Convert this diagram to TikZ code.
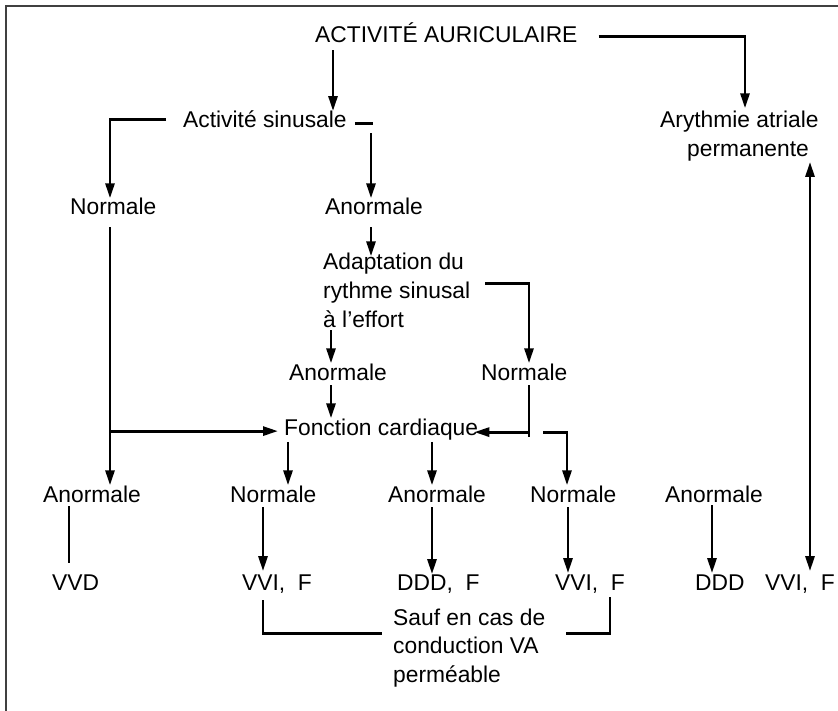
\documentclass[tikz,border=0pt]{standalone}
\usepackage{fontspec}
\setmainfont{Liberation Sans}
\usetikzlibrary{arrows.meta}
\begin{document}
\begin{tikzpicture}[x=1pt,y=-1pt,
  txt/.style={inner sep=0pt, anchor=base west, font=\fontsize{22.8}{28.5}\selectfont},
  ln/.style={line width=2.8pt},
  arr/.style={ln,-{Triangle[length=15pt,width=9pt]}},
  darr/.style={ln,{Triangle[length=15pt,width=9pt]}-{Triangle[length=15pt,width=9pt]}}]
\clip (0,0) rectangle (838,711);
\fill[white] (0,0) rectangle (838,711);
% frame
\draw[line width=1.5pt, black!75] (838,6) -- (6,6) -- (6,711);
% texts
\node[txt] (title) at (315,43) {ACTIVITÉ AURICULAIRE};
\node[txt] (sinus) at (183,128) {Activité sinusale};
\node[txt] (aap1) at (660,128) {Arythmie atriale};
\node[txt] (aap2) at (687,157) {permanente};
\node[txt] (n1) at (70,215) {Normale};
\node[txt] (a1) at (325,215) {Anormale};
\node[txt] (ad1) at (323,270) {Adaptation du};
\node[txt] (ad2) at (323,298.5) {rythme sinusal};
\node[txt] (ad3) at (323,327) {à l'effort};
\node[txt] (a2) at (289,380) {Anormale};
\node[txt] (n2) at (481,380) {Normale};
\node[txt] (fc) at (284,435) {Fonction cardiaque};
\node[txt] (a3) at (43,502) {Anormale};
\node[txt] (n3) at (230,502) {Normale};
\node[txt] (a4) at (388,502) {Anormale};
\node[txt] (n4) at (530,502) {Normale};
\node[txt] (a5) at (665,502) {Anormale};
\node[txt] (vvd) at (52,590) {VVD};
\node[txt] (vvi1) at (242,590) {VVI,~~F};
\node[txt] (ddd1) at (397,590) {DDD,~~F};
\node[txt] (vvi2) at (555,590) {VVI,~~F};
\node[txt] (ddd2) at (695,590) {DDD};
\node[txt] (vvi3) at (765,590) {VVI,~~F};
\node[txt] (sauf1) at (393,625) {Sauf en cas de};
\node[txt] (sauf2) at (393,653.5) {conduction VA};
\node[txt] (sauf3) at (393,682) {perméable};
% connectors
\draw[arr, shorten <=7pt] (title.south -| 333,0) -- (sinus.north -| 333,0);
\draw[arr, shorten <=21pt, shorten >=3pt] ([yshift=-3pt]title.east) -| (aap1.north -| 745,0);
\draw[arr, shorten <=17pt] (sinus.west) -| (n1.north -| 110,0);
\draw[ln] ([xshift=8pt,yshift=-4pt]sinus.east) -- ++(18,0);
\draw[arr, shorten <=5pt] (sinus.south -| 371,0) -- (a1.north -| 371,0);
\draw[arr, shorten <=12pt] (n1.south -| 110,0) -- (a3.north -| 110,0);
\draw[arr, shorten <=12pt, shorten >=6pt] (n1.south -| 110,0) |- ([yshift=-2pt]fc.west);
\draw[arr, shorten <=12pt, shorten >=-3pt] (a1.south -| 371,0) -- (ad1.north -| 371,0);
\draw[arr, shorten <=15pt] ([yshift=9pt]ad2.east) -| (n2.north -| 529,0);
\draw[arr, shorten <=3pt] (ad3.south -| 331,0) -- (a2.north -| 331,0);
\draw[arr, shorten <=5pt] (a2.south -| 331,0) -- (fc.north -| 331,0);
\coordinate (j) at (529,437);
\coordinate (k) at ([yshift=-3pt]fc.east);
\draw[ln, shorten <=5pt] (n2.south -| j) -- (j);
\draw[arr, shorten >=-4pt] (j |- k) -- (k);
\draw[arr] ([xshift=65pt]k) -| (n4.north -| 567,0);
\draw[arr, shorten <=2pt] (fc.south -| 288,0) -- (n3.north -| 288,0);
\draw[arr, shorten <=2pt] (fc.south -| 432,0) -- (a4.north -| 432,0);
\draw[ln, shorten <=4pt, shorten >=11pt] (a3.south -| 69,0) -- (vvd.north -| 69,0);
\draw[arr, shorten <=5pt, shorten >=3pt] (n3.south -| 263,0) -- (vvi1.north -| 263,0);
\draw[arr, shorten <=5pt] (a4.south -| 432,0) -- (ddd1.north -| 432,0);
\draw[arr, shorten <=5pt, shorten >=1pt] (n4.south -| 568,0) -- (vvi2.north -| 568,0);
\draw[arr, shorten <=3pt, shorten >=1pt] (a5.south -| 712,0) -- (ddd2.north -| 712,0);
\draw[darr, shorten >=3pt] (aap2.south -| 810,0) -- (vvi3.north -| 810,0);
\draw[ln, shorten <=7pt, shorten >=11pt] (vvi1.south -| 263,0) |- ([yshift=-8pt]sauf1.south west);
\draw[ln, shorten <=4pt, shorten >=20pt] (vvi2.south -| 610,0) |- ([yshift=-8pt]sauf1.south east);
\end{tikzpicture}
\end{document}
